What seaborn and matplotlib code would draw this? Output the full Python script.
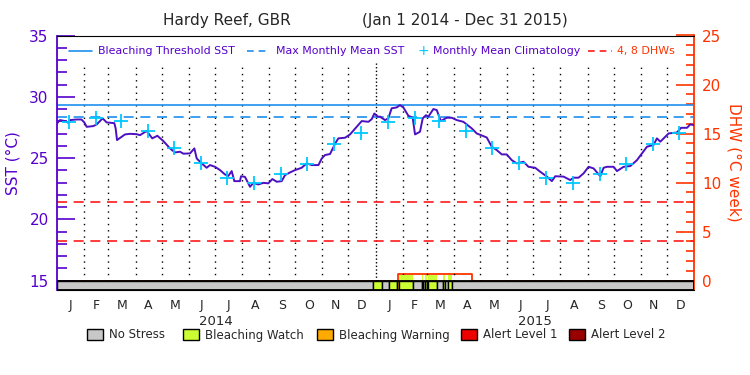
import numpy as np
import pandas as pd
import matplotlib
matplotlib.use("Agg")
import matplotlib.pyplot as plt
import seaborn as sns
from matplotlib.patches import Rectangle

# daily SST trace (day offset from Jan 1 2014, degC)
sst_days = [0, 3.4, 9.2, 13, 15, 22.5, 28, 31.3, 34, 41.6, 45.5, 52.3, 56.9, 65.7, 67.2, 68.8,
            74.1, 77.9, 83.7, 91.3, 95.1, 102.7, 109.2, 115, 121.9, 129.5, 135.2, 141, 144.8,
            152.4, 157.4, 160.1, 165.8, 171.5, 175.3, 181.1, 186.8, 192.6, 196.4, 200.2, 203.2,
            209.7, 210.9, 215.4, 221.2, 225, 230.7, 236.5, 242.2, 246.8, 251.8, 257.5, 261.3,
            267, 272.8, 280.4, 286.2, 291.9, 299.6, 303.4, 307.2, 312.9, 318.8, 322.4, 330.1,
            335.8, 343.5, 349.2, 356.9, 360.7, 363.7, 367.5, 370.2, 375.9, 379.7, 383.5, 389.2,
            393.1, 396.9, 402.6, 407.6, 410.3, 416, 419.1, 422.9, 425.6, 431.3, 435.2, 439.8,
            446.6, 452.4, 458.1, 465.7, 475.3, 481, 492.5, 498.2, 504, 509.7, 515.4, 521.2,
            526.9, 534.6, 540.3, 548, 553.7, 561.4, 567.1, 571, 580.5, 588.1, 592, 597.7, 603.4,
            609.2, 614.9, 622.6, 626.4, 630.2, 637.9, 641.7, 649.3, 657, 664.6, 676.1, 683.7,
            687.5, 691.4, 700.9, 710.5, 715.1, 722, 725.8, 730]
sst_vals = [27.83, 28.10, 28.02, 27.88, 28.10, 28.15, 28.15, 27.91, 27.55, 27.61, 27.75, 28.24,
            27.91, 27.85, 27.42, 26.47, 26.74, 26.93, 26.98, 26.95, 26.87, 27.21, 26.61, 26.82,
            26.39, 25.79, 25.46, 25.52, 25.36, 25.38, 25.79, 24.97, 24.57, 24.21, 24.43, 24.29,
            24.02, 23.66, 23.55, 23.94, 23.12, 23.12, 23.52, 23.47, 22.66, 22.98, 22.85, 22.98,
            22.94, 23.29, 23.07, 23.12, 23.61, 23.83, 24.02, 24.21, 24.57, 24.43, 24.43, 24.97,
            25.25, 25.33, 26.19, 26.61, 26.66, 26.93, 27.55, 28.02, 27.96, 28.18, 28.64, 28.38,
            28.38, 28.10, 28.24, 29.06, 29.13, 29.32, 29.13, 28.46, 28.29, 26.93, 27.15, 28.24,
            28.50, 28.38, 29.00, 28.92, 28.02, 28.29, 28.29, 28.10, 27.96, 27.42, 27.01, 26.68,
            25.93, 25.65, 25.30, 25.30, 24.83, 24.57, 24.70, 24.29, 24.21, 23.89, 23.49, 23.12,
            23.52, 23.49, 23.21, 23.40, 23.40, 23.75, 24.29, 24.16, 23.52, 24.21, 24.29, 24.29,
            23.94, 24.29, 24.35, 24.83, 25.93, 26.07, 26.61, 26.34, 27.01, 27.09, 27.47, 27.47,
            27.75, 27.69]

# monthly mean climatology, Jan..Dec
clim_vals = [27.91, 28.29, 28.02, 27.21, 25.85, 24.57, 23.40, 22.94, 23.67, 24.49, 26.11, 27.01]
mmm = 28.32
threshold = 29.32
dhw_levels = [4, 8]

# degree heating weeks (step series)
dhw_days = [0, 390.4, 475.3, 730]
dhw_vals = [0, 0.65, 0, 0]

# stress bar segments (start day, end day, level)
stress_segments = [
    (0, 362.5, "none"), (362.5, 373, "watch"), (373, 380.1, "none"), (380.1, 390, "watch"),
    (390, 392.3, "warning"), (392.3, 407.6, "watch"), (407.6, 418.3, "none"),
    (418.3, 419.8, "watch"), (419.8, 421.4, "none"), (421.4, 424.4, "watch"),
    (424.4, 425.5, "none"), (425.5, 435.1, "watch"), (435.1, 442, "none"), (442, 445, "watch"),
    (445, 448.4, "none"), (448.4, 452.3, "watch"), (452.3, 730, "none"),
]
stress_names = ["No Stress", "Bleaching Watch", "Bleaching Warning", "Alert Level 1", "Alert Level 2"]
stress_keys = ["none", "watch", "warning", "alert1", "alert2"]
stress_colors = ["#c8c8c8", "#ccff33", "#ffaa00", "#ee0000", "#990000"]

month_letters = ["J", "F", "M", "A", "M", "J", "J", "A", "S", "O", "N", "D"]
years = [2014, 2015]

PURPLE = "#5500cc"
LINE = "#4c10c0"
BLUE = "#1e8ff0"
CYAN = "#00c8ff"
RED = "#ff3300"

sns.set_style("white")
plt.rcParams["font.family"] = ["DejaVu Sans"]

W, H = 750, 375
fig = plt.figure(figsize=(7.5, 3.75), dpi=100)
ax = fig.add_axes([57 / W, 1 - 290 / H, (694 - 57) / W, (290 - 35.5) / H])

ymin, ymax = 14.24, 35
ax.set_xlim(0, 730)
ax.set_ylim(ymin, ymax)

start = pd.Timestamp("2014-01-01")
month_starts = pd.date_range("2014-01-01", "2016-01-01", freq="MS")
month_pos = [(d - start).days for d in month_starts]

# dotted month grid
for p in month_pos[1:-1]:
    ls = (0, (1, 1.6)) if p == 365 else (0, (1, 3.5))
    ax.vlines(p, 15, 32.75, colors="black", linestyles=ls, linewidth=1.0, zorder=1)

ax.axhline(threshold, color=BLUE, lw=1.2, zorder=2)
ax.axhline(mmm, color=BLUE, lw=1.2, ls=(0, (6, 4)), zorder=2)
for lev in dhw_levels:
    ax.axhline(15 + lev / 1.25, color="#ff1a1a", lw=1.2, ls=(0, (6, 4)), zorder=2)

sst = pd.DataFrame({"day": sst_days, "sst": sst_vals})
sns.lineplot(data=sst, x="day", y="sst", color=LINE, lw=1.4, ax=ax, zorder=4, legend=False)

clim_days = []
for yr in years:
    for m in range(12):
        mid = pd.Timestamp(yr, m + 1, 15)
        clim_days.append((mid - start).days)
clim = pd.DataFrame({"day": clim_days, "sst": clim_vals * len(years)})
sns.scatterplot(data=clim, x="day", y="sst", marker="+", s=90, color=CYAN, linewidth=1.3,
                ax=ax, zorder=5, legend=False)

# stress bar
key_color = dict(zip(stress_keys, stress_colors))
for a, b, k in stress_segments:
    ax.add_patch(Rectangle((a, ymin), b - a, 15 - ymin, facecolor=key_color[k],
                           edgecolor="black", lw=1.0, zorder=6))
for a, b, k in stress_segments:
    if k == "watch" and a > 390 and b < 476:
        ax.add_patch(Rectangle((a, 15), b - a, 0.5, facecolor=key_color[k],
                               edgecolor="none", zorder=3))

# DHW on right axis
ax2 = ax.twinx()
ax2.set_ylim((ymin - 15) * 1.25, (ymax - 15) * 1.25)
ax2.plot(dhw_days, dhw_vals, color=RED, lw=1.3, drawstyle="steps-post", zorder=3)
ax.set_zorder(ax2.get_zorder() + 1)
ax.patch.set_visible(False)
ax.add_patch(Rectangle((0, ymin), 730, 15 - ymin, facecolor="none", edgecolor="black",
                       lw=1.3, zorder=7))

# spines and ticks
for sp in ["top", "bottom"]:
    ax.spines[sp].set_color("black")
ax.spines["left"].set_color(PURPLE)
ax.spines["left"].set_linewidth(1.3)
ax.spines["right"].set_visible(False)
ax2.spines["right"].set_color(RED)
ax2.spines["right"].set_linewidth(1.3)
for sp in ["left", "top", "bottom"]:
    ax2.spines[sp].set_visible(False)

ax.set_yticks([15, 20, 25, 30, 35])
ax.set_yticks(np.arange(15, 35, 1), minor=True)
ax.tick_params(axis="y", which="major", direction="in", length=13, width=1.2, color=PURPLE,
               labelcolor=PURPLE, labelsize=11, pad=6, left=True)
ax.tick_params(axis="y", which="minor", direction="in", length=7, width=1.2, color=PURPLE, left=True)
ax.set_xticks([])
ax2.set_yticks([0, 5, 10, 15, 20, 25])
ax2.set_yticks(np.arange(0, 25, 1), minor=True)
ax2.tick_params(axis="y", which="major", direction="in", length=13, width=1.2, color=RED,
                labelcolor=RED, labelsize=11, pad=6, right=True)
ax2.tick_params(axis="y", which="minor", direction="in", length=6, width=1.2, color=RED, right=True)
ax.set_xlabel("")
ax.set_ylabel("SST (°C)", color=PURPLE, fontsize=11, labelpad=6)
ax2.set_ylabel("DHW (°C week)", color=RED, fontsize=11, rotation=270, labelpad=14)

# month and year labels
for i in range(len(month_pos) - 1):
    mid = (month_pos[i] + month_pos[i + 1]) / 2
    ax.text(mid, -0.035, month_letters[i % 12], transform=ax.get_xaxis_transform(),
            ha="center", va="top", fontsize=9)
for j, yr in enumerate(years):
    ax.text(182.5 + 365 * j, -0.1, str(yr), transform=ax.get_xaxis_transform(),
            ha="center", va="top", fontsize=9.5)

# title
fig.text(227 / W, 1 - 20 / H, "Hardy Reef, GBR", ha="center", va="center", fontsize=11)
fig.text(465 / W, 1 - 20 / H, "(Jan 1 2014 - Dec 31 2015)", ha="center", va="center", fontsize=11)

# top legend
ly = 1 - 51 / H
fs = 7.9
fig.add_artist(plt.Line2D([69 / W, 92 / W], [ly, ly], color=BLUE, lw=1.2))
fig.text(98 / W, ly, "Bleaching Threshold SST", color=PURPLE, fontsize=fs, va="center")
fig.add_artist(plt.Line2D([247 / W, 270 / W], [ly, ly], color=BLUE, lw=1.2, ls=(0, (4, 3))))
fig.text(276 / W, ly, "Max Monthly Mean SST", color=PURPLE, fontsize=fs, va="center")
fig.text(423 / W, ly, "+", color=CYAN, fontsize=10, va="center", ha="center")
fig.text(433 / W, ly, "Monthly Mean Climatology", color=PURPLE, fontsize=fs, va="center")
fig.add_artist(plt.Line2D([588 / W, 612 / W], [ly, ly], color="#ff1a1a", lw=1.2, ls=(0, (4, 3))))
fig.text(617 / W, ly, "4, 8 DHWs", color=RED, fontsize=fs, va="center")

# stress legend
box_x = [87, 183, 317, 461, 569]
for bx, name, col in zip(box_x, stress_names, stress_colors):
    fig.add_artist(Rectangle((bx / W, 1 - 340 / H), 16 / W, 11 / H, facecolor=col,
                             edgecolor="black", lw=1.0, transform=fig.transFigure))
    fig.text((bx + 22) / W, 1 - 335 / H, name, fontsize=8.5, va="center")

fig.savefig("out.png", dpi=100)
